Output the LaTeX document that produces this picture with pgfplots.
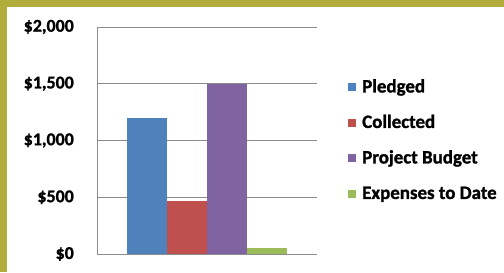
\documentclass[border=0pt]{standalone}
\usepackage{fontspec}
\setmainfont{Carlito}
\newfontfamily\heavy{Carlito}[BoldFont={* Bold}, BoldFeatures={FakeBold=1.2}]
\usepackage{pgfplots}
\pgfplotsset{compat=1.18}
\definecolor{olivebd}{RGB}{178,172,58}
\definecolor{cblue}{RGB}{79,129,189}
\definecolor{cred}{RGB}{192,80,77}
\definecolor{cpurple}{RGB}{128,100,162}
\definecolor{cgreen}{RGB}{155,187,89}
\definecolor{gridgray}{RGB}{140,140,140}
\begin{document}
\begin{tikzpicture}[x=1bp,y=1bp]
\useasboundingbox (0,0) rectangle (504,272);
\fill[white] (0,0) rectangle (504,272);
\fill[olivebd] (0,265.3) rectangle (504,272);
\fill[olivebd] (0,0) rectangle (7,272);
\begin{axis}[
  at={(97bp,18bp)}, anchor=south west,
  scale only axis, width=220bp, height=227bp,
  xmin=-1, xmax=1, ymin=0, ymax=2000,
  ybar=0pt, bar width=40bp,
  xtick=\empty,
  ytick={0,500,1000,1500,2000},
  yticklabels={\$0,\$500,{\$1,000},{\$1,500},{\$2,000}},
  yticklabel style={font=\heavy\fontsize{18}{20}\selectfont\bfseries, inner sep=0pt, xshift=-23bp},
  major tick length=0pt,
  ymajorgrids, grid style={gridgray, line width=0.9bp},
  axis x line*=bottom, axis y line*=left,
  axis line style={gridgray, line width=0.9bp, -},
  legend style={at={(axis description cs:1.1409,0.499)}, anchor=west, draw=none, fill=none,
    inner sep=0pt, font=\heavy\fontsize{19}{21}\selectfont\bfseries, row sep=19.5bp, column sep=6bp,
    nodes={inner sep=0pt, text height=13bp, text depth=3bp, anchor=west}},
  legend cell align=left,
  legend image code/.code={\fill[#1] (0bp,-4bp) rectangle (8bp,4bp);},
]
\addplot[fill=cblue, draw=none] coordinates {(0,1200)};
\addplot[fill=cred, draw=none] coordinates {(0,465)};
\addplot[fill=cpurple, draw=none] coordinates {(0,1500)};
\addplot[fill=cgreen, draw=none] coordinates {(0,55)};
\legend{Pledged, Collected, Project Budget, Expenses to Date}
\end{axis}
\end{tikzpicture}
\end{document}
